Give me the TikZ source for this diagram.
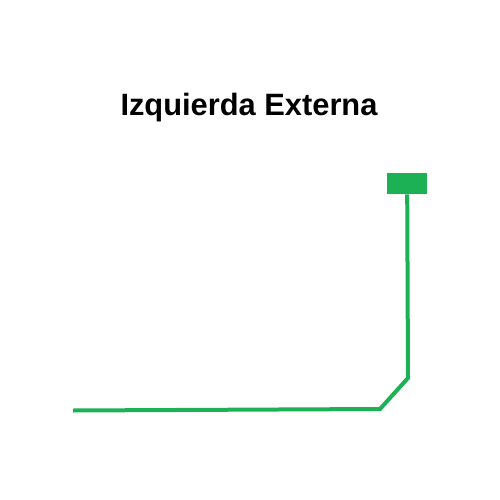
\documentclass[tikz,border=0pt]{standalone}
\usepackage{fontspec}
\setmainfont{Liberation Sans}
\definecolor{lgreen}{RGB}{27,177,84}
\begin{document}
\begin{tikzpicture}[x=1pt,y=-1pt,
  wire/.style={draw=lgreen,line width=4pt,line join=miter},
  cap/.style={}]
\useasboundingbox (0,0) rectangle (500,500);
\node[font=\bfseries\fontsize{28}{32}\selectfont,inner sep=0pt] (title) at (249,108) {\resizebox{257pt}{!}{Izquierda Externa}};
\node[fill=lgreen,minimum width=40pt,minimum height=21pt,inner sep=0pt,anchor=north west] (box) at (387,173) {};
\coordinate (c1) at (408,378);
\coordinate (c2) at (380,409);
\coordinate (e) at (73,410.5);
\draw[wire] (box.south) -- ++(0,0) -- (c1) -- (c2) -- (e);
\end{tikzpicture}
\end{document}
